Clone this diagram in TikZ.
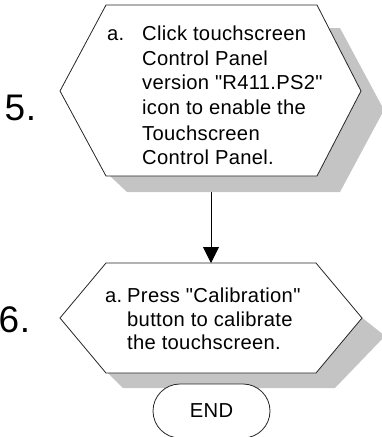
\documentclass[tikz,border=0pt]{standalone}
\usepackage{fontspec}
\setmainfont{Liberation Sans}[LetterSpace=1.5,Ligatures=TeXOff]
\usetikzlibrary{arrows.meta,shapes.misc}
\definecolor{shadowgray}{HTML}{C4C4C4}
\begin{document}
\begin{tikzpicture}[x=1pt,y=-1pt,
  hexbox/.style={draw=black!85,line width=0.8pt,fill=white,line join=miter},
  shadowbox/.style={fill=shadowgray,draw=none},
  txt/.style={anchor=base west,inner sep=0pt,font=\fontsize{20.2}{24}\selectfont},
  stepnum/.style={anchor=base west,inner sep=0pt,font=\fontsize{37}{40}\selectfont},
  endbox/.style={draw=black!85,line width=0.8pt,fill=white,rounded rectangle,
    minimum width=117pt,minimum height=54pt,inner sep=0pt,
    font=\fontsize{20.2}{24}\selectfont},
  conn/.style={draw=black,line width=0.9pt,-{Triangle[width=16pt,length=16pt]}}]
\useasboundingbox (0,0) rectangle (381,437);
% connector endpoints
\coordinate (h1b) at (211,192);
\coordinate (h2t) at (211,263);
\draw[conn] (h1b) -- (h2t);
% shadows
\fill[shadowbox] (127,192) -- (340,192) -- (384,110) -- (340,28) -- (300,28) -- (300,150) -- (110,176) -- cycle;
\fill[shadowbox] (123,388) -- (335,388) -- (385,336) -- (355,312) -- (110,312) -- (107,372) -- cycle;
% hexagons
\draw[hexbox] (106,5) -- (317,5) -- (361,91) -- (317,176) -- (106,176) -- (60,91) -- cycle;
\draw[hexbox] (106,263) -- (316,263) -- (362,318) -- (316,373) -- (106,373) -- (60,318) -- cycle;
% step numbers
\node[stepnum] (n5) at (4.5,120) {5.};
\node[stepnum] (n6) at (-1.5,332) {6.};
% text of step 5
\node[txt] (a5) at (107,40) {a.};
\node[txt] (l51) at (142,40) {Click touchscreen};
\node[txt] (l52) at (142,65) {Control Panel};
\node[txt] (l53) at (142,89) {version "R411.PS2"};
\node[txt] (l54) at (142,114) {icon to enable the};
\node[txt] (l55) at (142,140) {Touchscreen};
\node[txt] (l56) at (142,164) {Control Panel.};
% text of step 6
\node[txt] (a6) at (105,302) {a.};
\node[txt] (l61) at (127,302) {Press "Calibration"};
\node[txt] (l62) at (127,326) {button to calibrate};
\node[txt] (l63) at (127,349) {the touchscreen.};
% end
\node[endbox] (end) at (211.5,411) {END};
\end{tikzpicture}
\end{document}
